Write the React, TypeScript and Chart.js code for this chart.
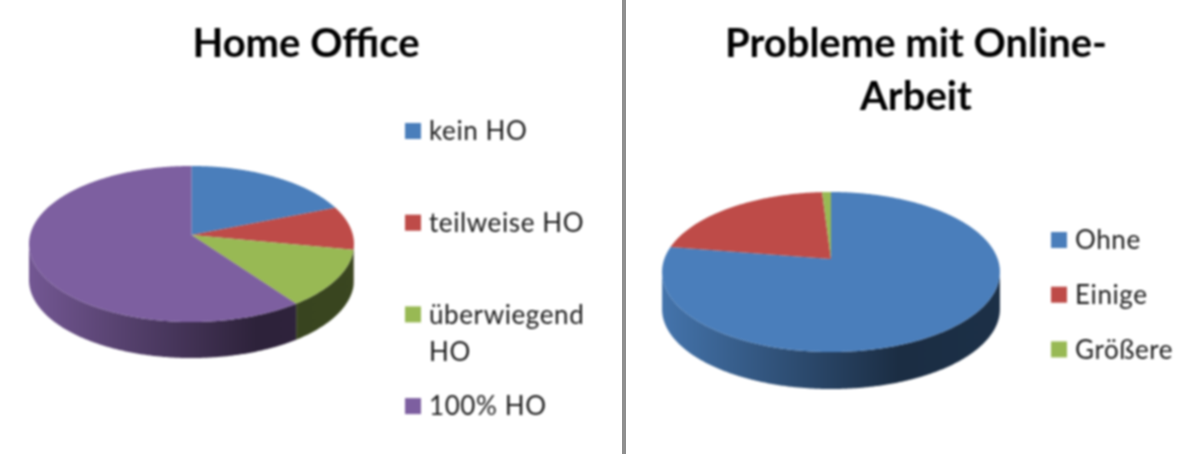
import React, { useEffect, useRef } from "react";
import { Chart, registerables } from "chart.js";

Chart.register(...registerables);

const homeOfficeTitle = "Home Office";
const homeOfficeLabels = ["kein HO", "teilweise HO", "überwiegend HO", "100% HO"];
const homeOfficeValues = [19, 9, 12, 60];
const homeOfficeColors = ["#4a7ebb", "#be4b48", "#98b954", "#7d5fa0"];

const problemsTitle = ["Probleme mit Online-", "Arbeit"];
const problemsLabels = ["Ohne", "Einige", "Größere"];
const problemsValues = [77.5, 21.5, 1];
const problemsColors = ["#4a7ebb", "#be4b48", "#98b954"];

const shade = (hex: string, f: number) => {
  const n = parseInt(hex.slice(1), 16);
  const c = [(n >> 16) & 255, (n >> 8) & 255, n & 255].map((v) => Math.round(v * f));
  return `rgb(${c[0]},${c[1]},${c[2]})`;
};

// Draws the arcs computed by the doughnut controller as a tilted, extruded disc.
const pie3d = {
  id: "pie3d",
  beforeDatasetDraw(chart: any, args: any, o: any) {
    const ctx = chart.ctx;
    const arcs = chart.getDatasetMeta(args.index).data;
    const colors = chart.data.datasets[args.index].backgroundColor;
    const project = (a: number) => {
      const u = Math.cos(a);
      const v = Math.sin(a);
      const w = 1 - o.persp * v;
      return { x: o.cx + (o.rx * u) / w, y: o.apexY + (o.ry * v) / w };
    };
    const arcPoints = (start: number, end: number) => {
      const pts = [];
      const n = Math.max(2, Math.ceil((end - start) / 0.008));
      for (let i = 0; i <= n; i++) pts.push(project(start + ((end - start) * i) / n));
      return pts;
    };
    const halfW = o.rx / Math.sqrt(1 - o.persp * o.persp);
    ctx.save();
    arcs.forEach((el: any, i: number) => {
      const { startAngle, endAngle } = el.getProps(["startAngle", "endAngle"], true);
      const pts = arcPoints(startAngle, endAngle);
      let first = -1;
      let last = -1;
      for (let k = 0; k < pts.length - 1; k++) {
        if (pts[k + 1].x < pts[k].x && (pts[k].y + pts[k + 1].y) / 2 > o.apexY - 5) {
          if (first < 0) first = k;
          last = k + 1;
        }
      }
      if (first < 0) return;
      const run = pts.slice(first, last + 1);
      const g = ctx.createLinearGradient(o.cx - halfW, 0, o.cx + halfW, 0);
      g.addColorStop(0, shade(colors[i], 0.92));
      g.addColorStop(0.7, shade(colors[i], 0.36));
      g.addColorStop(1, shade(colors[i], 0.38));
      ctx.beginPath();
      run.forEach((p: any, k: number) => (k ? ctx.lineTo(p.x, p.y) : ctx.moveTo(p.x, p.y)));
      for (let k = run.length - 1; k >= 0; k--) ctx.lineTo(run[k].x, run[k].y + o.depth);
      ctx.closePath();
      ctx.fillStyle = g;
      ctx.fill();
    });
    arcs.forEach((el: any, i: number) => {
      const { startAngle, endAngle } = el.getProps(["startAngle", "endAngle"], true);
      const pts = arcPoints(startAngle, endAngle);
      ctx.beginPath();
      ctx.moveTo(o.cx, o.apexY);
      pts.forEach((p: any) => ctx.lineTo(p.x, p.y));
      ctx.closePath();
      ctx.fillStyle = colors[i];
      ctx.fill();
    });
    ctx.restore();
    return false;
  },
};

// Side legend with evenly spaced rows and word wrapping.
const sideLegend = {
  id: "sideLegend",
  afterDraw(chart: any, _args: any, o: any) {
    const ctx = chart.ctx;
    const colors = chart.data.datasets[0].backgroundColor;
    ctx.save();
    ctx.font = o.font;
    ctx.letterSpacing = o.letterSpacing;
    ctx.textBaseline = "middle";
    ctx.textAlign = "left";
    chart.data.labels.forEach((label: string, i: number) => {
      const y = o.y + i * o.gap;
      ctx.fillStyle = colors[i];
      ctx.fillRect(o.x, y - o.box / 2, o.box, o.box);
      ctx.fillStyle = o.color;
      const lines: string[] = [];
      let line = "";
      label.split(" ").forEach((word) => {
        const t = line ? `${line} ${word}` : word;
        if (line && ctx.measureText(t).width > o.maxWidth) {
          lines.push(line);
          line = word;
        } else line = t;
      });
      lines.push(line);
      lines.forEach((l, k) => ctx.fillText(l, o.x + o.box + o.textGap, y + 1 + k * o.lineHeight));
    });
    ctx.restore();
  },
};

function Pie(props: any) {
  const ref = useRef<HTMLCanvasElement>(null);
  useEffect(() => {
    const chart = new Chart(ref.current as HTMLCanvasElement, {
      type: "pie",
      data: {
        labels: props.labels,
        datasets: [{ data: props.values, backgroundColor: props.colors, borderWidth: 0 }],
      },
      plugins: [pie3d, sideLegend],
      options: {
        responsive: false,
        animation: false,
        devicePixelRatio: 1,
        plugins: {
          legend: { display: false },
          tooltip: { enabled: false },
          title: {
            display: true,
            text: props.title,
            color: "#000000",
            font: { family: "Lato", weight: "bold", size: 40, lineHeight: 53 / 40 },
            padding: { top: 18, bottom: 0 },
          },
          pie3d: props.geometry,
          sideLegend: {
            ...props.legend,
            font: "26px Lato",
            letterSpacing: "0.6px",
            color: "#1a1a1a",
            box: 16,
            textGap: 8,
            lineHeight: 37,
          },
        },
      } as any,
    });
    return () => chart.destroy();
  }, []);
  return (
    <canvas
      ref={ref}
      width={props.width}
      height={454}
      style={{
        position: "absolute",
        left: props.left,
        top: 0,
        width: props.width,
        height: 454,
        filter: "blur(0.8px)",
      }}
    />
  );
}

export default function App() {
  return (
    <div
      style={{
        position: "absolute",
        left: 0,
        top: 0,
        width: 1200,
        height: 454,
        background: "#ffffff",
        overflow: "hidden",
      }}
    >
      <Pie
        left={0}
        width={612}
        title={homeOfficeTitle}
        labels={homeOfficeLabels}
        values={homeOfficeValues}
        colors={homeOfficeColors}
        geometry={{ cx: 191.5, apexY: 235, rx: 161.4, ry: 77, persp: 0.1154, depth: 36 }}
        legend={{ x: 405, y: 131, gap: 91.7, maxWidth: 175 }}
      />
      <Pie
        left={634}
        width={564}
        title={problemsTitle}
        labels={problemsLabels}
        values={problemsValues}
        colors={problemsColors}
        geometry={{ cx: 197, apexY: 259, rx: 166.7, ry: 77.9, persp: 0.1626, depth: 37 }}
        legend={{ x: 417, y: 240, gap: 54.7, maxWidth: 140 }}
      />
      <div
        style={{
          position: "absolute",
          left: 622,
          top: 0,
          width: 4,
          height: 454,
          background: "#8f8f8f",
        }}
      />
    </div>
  );
}
